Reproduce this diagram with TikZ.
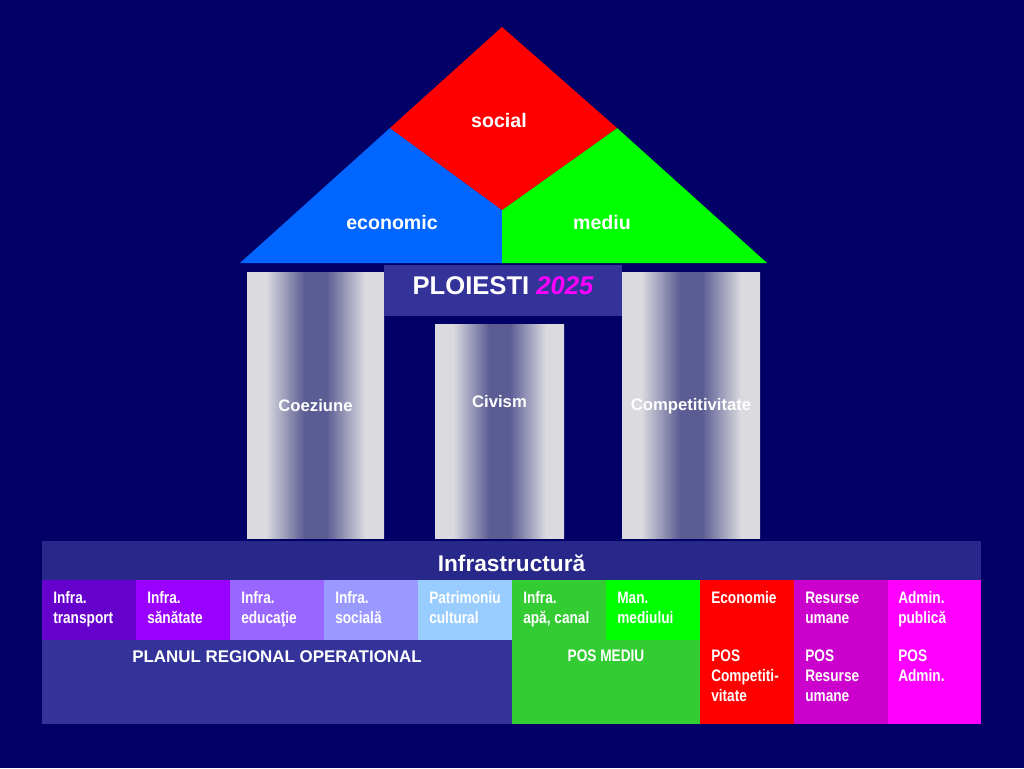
\documentclass[tikz,border=0pt]{standalone}
\usepackage{fontspec}
\setmainfont{Liberation Sans}
\newfontfamily\narrowfont{Liberation Sans}[FakeStretch=0.82]

\definecolor{night}{HTML}{000066}
\definecolor{slab}{HTML}{333399}
\definecolor{band}{HTML}{28288A}
\definecolor{roofblue}{HTML}{0066FF}
\definecolor{roofred}{HTML}{FF0000}
\definecolor{roofgreen}{HTML}{00FF00}
\definecolor{pillarpale}{HTML}{DADADF}
\definecolor{pillardeep}{HTML}{5C5C94}
\definecolor{cTransport}{HTML}{6600CC}
\definecolor{cSanatate}{HTML}{9900FF}
\definecolor{cEducatie}{HTML}{9966FF}
\definecolor{cSociala}{HTML}{9999FF}
\definecolor{cPatrimoniu}{HTML}{99CCFF}
\definecolor{cApa}{HTML}{33CC33}
\definecolor{cMediu}{HTML}{00FF00}
\definecolor{cEconomie}{HTML}{FF0000}
\definecolor{cResurse}{HTML}{CC00CC}
\definecolor{cAdmin}{HTML}{FF00FF}

\pgfdeclarehorizontalshading{pillar}{100bp}{color(0bp)=(pillarpale); color(32bp)=(pillarpale); color(46bp)=(pillardeep); color(54bp)=(pillardeep); color(68bp)=(pillarpale); color(100bp)=(pillarpale)}

\tikzset{
  roofword/.style={text=white, font=\bfseries\fontsize{14.7}{17}\selectfont, inner sep=0pt},
  pillarword/.style={text=white, font=\bfseries\fontsize{12.5}{15}\selectfont, inner sep=0pt},
  cellword/.style={text=white, font=\narrowfont\bfseries\fontsize{12.5}{15}\selectfont,
    anchor=north west, inner sep=0pt, align=left},
}

\begin{document}
\begin{tikzpicture}[x=0.75pt, y=-0.75pt]
  \fill[night] (0,0) rectangle (1024,768);
  \useasboundingbox (0,0) rectangle (1024,768);

  % roof
  \fill[roofblue] (240,263) -- (390,128) -- (502,210) -- (502,263) -- cycle;
  \fill[roofgreen] (502,210) -- (617,128) -- (767,263) -- (502,263) -- cycle;
  \fill[roofred] (502,27) -- (617,128) -- (502,210) -- (390,128) -- cycle;
  \node[roofword] (social) at (499,120) {social};
  \node[roofword] (economic) at (392,222) {economic};
  \node[roofword] (mediu) at (602,222) {mediu};

  % pillars
  \shade[shading=pillar] (247,272) rectangle (384,538);
  \shade[shading=pillar] (435,324) rectangle (564,538);
  \shade[shading=pillar] (622,272) rectangle (760,538);
  \node[pillarword] (coeziune) at (315.5,406) {Coeziune};
  \node[pillarword] (civism) at (499.5,402) {Civism};
  \node[pillarword] (competitivitate) at (691,406) {Competitivitate};

  % title plate
  \fill[slab] (384,265) rectangle (622,316);
  \node[text=white, font=\bfseries\fontsize{19.2}{22}\selectfont, inner sep=0pt] (ploiesti)
    at (503,286) {PLOIESTI \textcolor{cAdmin}{\itshape 2025}};

  % base
  \fill[band] (42,541) rectangle (981,580);
  \node[text=white, font=\bfseries\fontsize{17}{20}\selectfont, inner sep=0pt] (infra)
    at (511.5,563) {Infrastructur\u{a}};

  \fill[cTransport] (42,580) rectangle (136,640);
  \fill[cSanatate] (136,580) rectangle (230,640);
  \fill[cEducatie] (230,580) rectangle (324,640);
  \fill[cSociala] (324,580) rectangle (418,640);
  \fill[cPatrimoniu] (418,580) rectangle (512,640);
  \fill[cApa] (512,580) rectangle (606,640);
  \fill[cMediu] (606,580) rectangle (700,640);
  \fill[cEconomie] (700,580) rectangle (794,640);
  \fill[cResurse] (794,580) rectangle (888,640);
  \fill[cAdmin] (888,580) rectangle (981,640);

  \node[cellword] (transport) at (53,591.5) {Infra.\\transport};
  \node[cellword] (sanatate) at (147,591.5) {Infra.\\s\u{a}n\u{a}tate};
  \node[cellword] (educatie) at (241,591.5) {Infra.\\educa\c{t}ie};
  \node[cellword] (sociala) at (335,591.5) {Infra.\\social\u{a}};
  \node[cellword] (patrimoniu) at (429,591.5) {Patrimoniu\\cultural};
  \node[cellword] (apa) at (523,591.5) {Infra.\\ap\u{a}, canal};
  \node[cellword] (manmediu) at (617,591.5) {Man.\\mediului};
  \node[cellword] (economie) at (711,591.5) {Economie};
  \node[cellword] (resurse) at (805,591.5) {Resurse\\umane};
  \node[cellword] (admin) at (898,591.5) {Admin.\\public\u{a}};

  \fill[slab] (42,640) rectangle (512,724);
  \fill[cApa] (512,640) rectangle (700,724);
  \fill[cEconomie] (700,640) rectangle (794,724);
  \fill[cResurse] (794,640) rectangle (888,724);
  \fill[cAdmin] (888,640) rectangle (981,724);

  \node[text=white, font=\bfseries\fontsize{12.7}{15}\selectfont, inner sep=0pt, anchor=north] (por)
    at (277,650) {PLANUL REGIONAL OPERATIONAL};
  \node[cellword, anchor=north] (posmediu) at (606,650) {POS MEDIU};
  \node[cellword] (poscomp) at (711,650) {POS\\Competiti-\\vitate};
  \node[cellword] (posresurse) at (805,650) {POS\\Resurse\\umane};
  \node[cellword] (posadmin) at (898,650) {POS\\Admin.};
\end{tikzpicture}
\end{document}
